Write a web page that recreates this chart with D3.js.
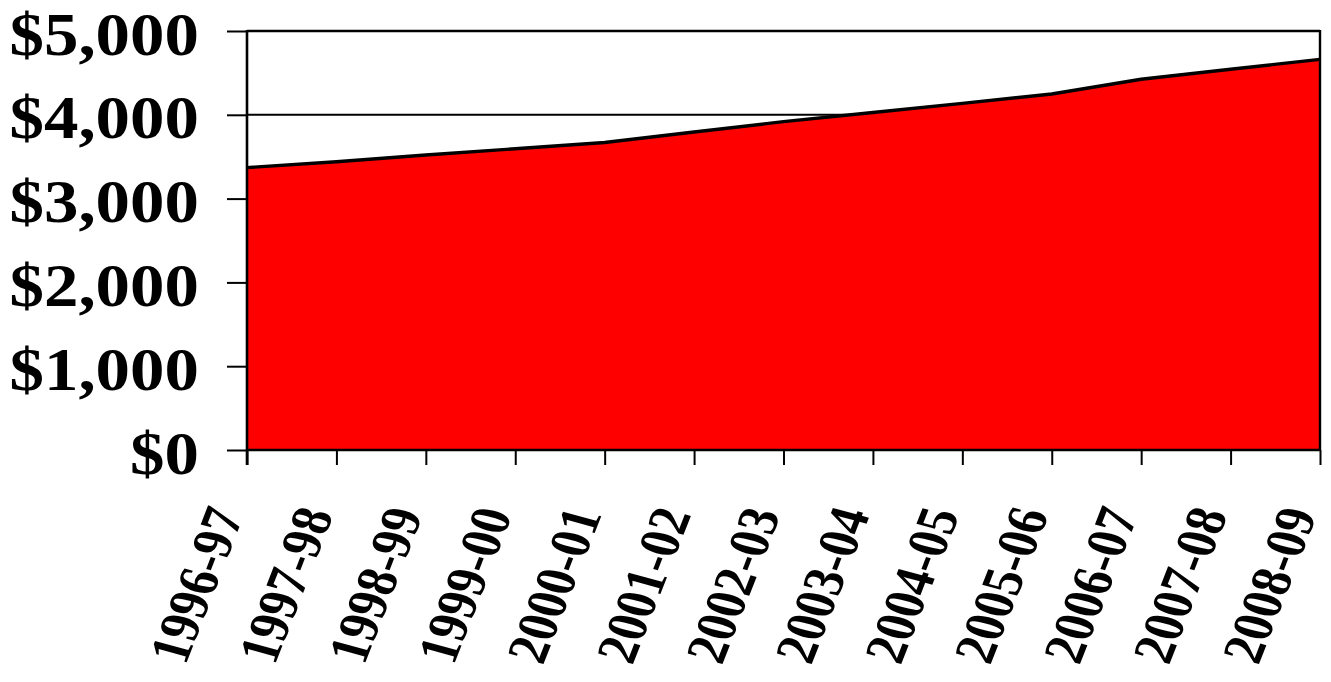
<!DOCTYPE html>
<html>
<head>
<meta charset="utf-8">
<script src="https://cdn.jsdelivr.net/npm/d3@7"></script>
<style>
  html, body { margin: 0; padding: 0; background: #fff; }
  svg { display: block; }
  text { font-family: "Liberation Serif", "Times New Roman", serif; font-weight: bold; fill: #000; }
</style>
</head>
<body>
<svg id="chart" width="1331" height="682"></svg>
<script>
// School years and spending per year (dollars)
const years = ["1996-97", "1997-98", "1998-99", "1999-00", "2000-01", "2001-02", "2002-03",
               "2003-04", "2004-05", "2005-06", "2006-07", "2007-08", "2008-09"];
const spending = [3370, 3440, 3520, 3595, 3670, 3795, 3918, 4027, 4137, 4248, 4424, 4543, 4662];
const yTicks = [0, 1000, 2000, 3000, 4000, 5000];

const svg = d3.select("#chart");
const plotLeft = 247, plotRight = 1320, plotTop = 31, plotBottom = 450;

const x = d3.scalePoint().domain(years).range([plotLeft, plotRight]).padding(0);
const y = d3.scaleLinear().domain([0, 5000]).range([plotBottom, plotTop]);

const data = years.map((yr, i) => ({ yr, v: spending[i] }));

// horizontal gridlines (only the ones inside the frame)
svg.append("g").selectAll("line")
  .data(yTicks.filter(t => t > 0 && t < 5000))
  .join("line")
  .attr("x1", plotLeft).attr("x2", plotRight)
  .attr("y1", d => y(d)).attr("y2", d => y(d))
  .attr("stroke", "#000").attr("stroke-width", 2);

// filled area
svg.append("path")
  .datum(data)
  .attr("fill", "#ff0000")
  .attr("d", d3.area().x(d => x(d.yr)).y0(y(0)).y1(d => y(d.v)));

// outline along the top of the area
svg.append("path")
  .datum(data)
  .attr("fill", "none")
  .attr("stroke", "#000")
  .attr("stroke-width", 3.4)
  .attr("stroke-linejoin", "round")
  .attr("d", d3.line().x(d => x(d.yr)).y(d => y(d.v)));

// frame: top and right borders
svg.append("line").attr("x1", plotLeft).attr("x2", plotRight).attr("y1", plotTop).attr("y2", plotTop)
  .attr("stroke", "#000").attr("stroke-width", 2.4);
svg.append("line").attr("x1", plotRight).attr("x2", plotRight).attr("y1", plotTop - 1).attr("y2", plotBottom)
  .attr("stroke", "#000").attr("stroke-width", 2.4);

// y axis
const yAxis = svg.append("g")
  .attr("transform", `translate(${plotLeft},0)`)
  .call(d3.axisLeft(y).tickValues(yTicks).tickSize(20).tickSizeOuter(0)
    .tickFormat(d => "$" + d3.format(",")(d)));
yAxis.select(".domain").remove();
yAxis.selectAll(".tick line").attr("stroke", "#000").attr("stroke-width", 2);
yAxis.selectAll(".tick text")
  .attr("x", null).attr("dy", "0.38em")
  .attr("text-anchor", "end")
  .attr("font-size", 61)
  .attr("font-family", null)
  .attr("transform", "translate(-48,0) scale(1.13,1)");
svg.append("line").attr("x1", plotLeft).attr("x2", plotLeft).attr("y1", plotTop - 1).attr("y2", plotBottom + 15)
  .attr("stroke", "#000").attr("stroke-width", 2.6);

// x axis
const xAxis = svg.append("g")
  .attr("transform", `translate(0,${plotBottom})`)
  .call(d3.axisBottom(x).tickSize(15).tickSizeOuter(0));
xAxis.select(".domain").remove();
xAxis.selectAll(".tick line").attr("stroke", "#000").attr("stroke-width", 2);
xAxis.selectAll(".tick text")
  .attr("y", null).attr("dy", null)
  .attr("text-anchor", "end")
  .attr("font-size", 48)
  .attr("font-family", null)
  .attr("transform", "translate(-3,64) scale(1.2,1) rotate(-72)");
svg.append("line").attr("x1", plotLeft).attr("x2", plotRight + 1).attr("y1", plotBottom).attr("y2", plotBottom)
  .attr("stroke", "#000").attr("stroke-width", 2.6);
</script>
</body>
</html>
